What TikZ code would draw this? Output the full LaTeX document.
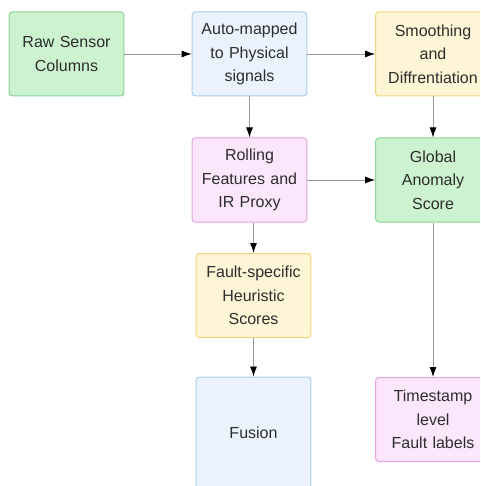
\documentclass[tikz,border=0pt]{standalone}
\usepackage{fontspec}
\setmainfont{Liberation Sans}
\usetikzlibrary{arrows.meta,positioning}
\definecolor{BoxGreen}{RGB}{204,242,207}
\definecolor{LineGreen}{RGB}{141,212,151}
\definecolor{BoxBlue}{RGB}{234,243,253}
\definecolor{LineBlue}{RGB}{168,205,235}
\definecolor{BoxYellow}{RGB}{254,244,214}
\definecolor{LineYellow}{RGB}{242,214,122}
\definecolor{BoxPink}{RGB}{251,230,251}
\definecolor{LinePink}{RGB}{227,166,227}
\definecolor{TextGray}{RGB}{45,45,45}
\tikzset{
  stagebox/.style={rounded corners=3pt,line width=1pt,minimum width=113pt,
    minimum height=84pt,text width=108pt,align=center,
    font=\fontsize{16}{23.5}\selectfont,text=TextGray},
  greenbox/.style={stagebox,draw=LineGreen,fill=BoxGreen},
  bluebox/.style={stagebox,draw=LineBlue,fill=BoxBlue},
  yellowbox/.style={stagebox,draw=LineYellow,fill=BoxYellow},
  pinkbox/.style={stagebox,draw=LinePink,fill=BoxPink},
  arrow/.style={-{Latex[length=10pt,width=7pt,black]},line width=0.9pt,gray!80}
}

\begin{document}
\begin{tikzpicture}[x=1pt,y=-1pt]
  \clip (0,0) rectangle (480,486);
  \fill[white] (0,0) rectangle (480,486);

  % top row
  \node[greenbox] (raw) at (66.5,54) {Raw Sensor\\Columns};
  \node[bluebox] (auto) at (249.5,54) {Auto-mapped\\to Physical\\signals};
  \node[yellowbox] (smooth) at (433,54) {Smoothing\\and\\Diffrentiation};

  % middle row
  \node[pinkbox] (roll) at (249.5,180) {Rolling\\Features and\\IR Proxy};
  \node[greenbox] (global) at (433,180) {Global\\Anomaly\\Score};

  % lower rows
  \node[yellowbox] (fault) at (253.5,295.5) {Fault-specific\\Heuristic\\Scores};
  \node[bluebox,minimum height=112pt] (fusion) at (253.5,433) {Fusion};
  \node[pinkbox] (stamp) at (433,419.5) {Timestamp\\level\\Fault labels};

  % connectors
  \draw[arrow] (raw) -- (auto);
  \draw[arrow] (auto) -- (smooth);
  \draw[arrow] (auto) -- (roll);
  \draw[arrow] (smooth) -- (global);
  \draw[arrow] (roll) -- (global);
  \draw[arrow] (fault.north |- roll.south) -- (fault.north);
  \draw[arrow] (fault) -- (fusion);
  \draw[arrow] (global) -- (stamp);
\end{tikzpicture}
\end{document}
